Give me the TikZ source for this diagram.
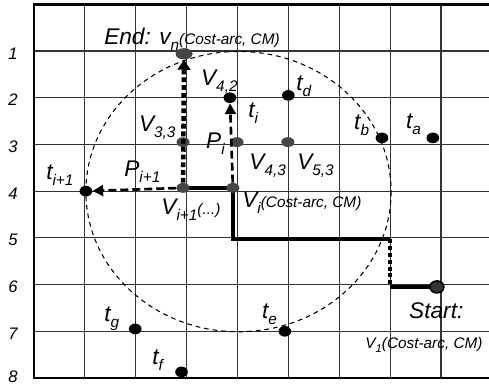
\documentclass[tikz,border=0pt]{standalone}
\usepackage{fontspec}
\setmainfont{Liberation Sans}
\usepackage{tikz}
\usetikzlibrary{arrows.meta, shapes.geometric, backgrounds}
\usepackage{xcolor}
\definecolor{dotgray}{HTML}{464646}
\definecolor{gridgray}{HTML}{333333}
\newcommand{\mainf}{\fontsize{17pt}{19pt}\selectfont\itshape}
\newcommand{\smallf}{\fontsize{11.5pt}{13pt}\selectfont\itshape}
\newcommand{\sbx}[1]{\raisebox{-4.5pt}{\fontsize{11.5pt}{13pt}\selectfont\itshape #1}}
\newcommand{\sbs}[1]{\raisebox{-3pt}{\fontsize{8.5pt}{10pt}\selectfont\itshape #1}}

\begin{document}
\begin{tikzpicture}[
    x=38.15pt, y=-35.03pt,
    gridline/.style={gridgray, line width=0.9pt},
    frame/.style={black, line width=2pt},
    vdot/.style={ellipse, fill=dotgray, inner sep=0, minimum width=9.8pt, minimum height=7.4pt},
    tdot/.style={ellipse, fill=black, inner sep=0, minimum width=9.5pt, minimum height=8pt},
    lbl/.style={anchor=base west, inner sep=0, font=\mainf},
    rowlbl/.style={inner sep=0, font=\fontsize{12.5pt}{14pt}\selectfont\itshape},
    route/.style={line width=3pt},
    routedots/.style={line width=3pt, dash pattern=on 3pt off 2.2pt},
    searcharrow/.style={line width=3.4pt, dash pattern=on 3.6pt off 2.2pt, -{Triangle[width=9.5pt,length=7.5pt]}},
    probe/.style={line width=2pt, dash pattern=on 6pt off 3pt, -{Triangle[width=8pt,length=8pt]}},
    searchzone/.style={line width=0.8pt, dash pattern=on 3.5pt off 3pt}
]
    \useasboundingbox (-0.668,-0.092) rectangle (8.944,8.195);

    % Grid
    \begin{scope}[on background layer]
        \foreach \r in {1,...,7}
            \draw[gridline] (0,\r) -- (8.944,\r);
        \foreach \c in {1,...,8}
            \draw[gridline] (\c,0) -- (\c,8);
        \draw[frame] (8.944,0) -- (0,0) -- (0,8) -- (8.944,8);
    \end{scope}

    % Row numbers
    \foreach \r in {1,...,7}
        \node[rowlbl] (row\r) at (-0.413,\r+0.05) {\r};
    \node[rowlbl] (row8) at (-0.413,7.97) {8};

    % Route vertices
    \node[vdot, minimum width=12.75pt, minimum height=8.5pt] (vn) at (2.95,1.06) {};
    \node[vdot] (v33) at (2.93,2.95) {};
    \node[vdot] (vnext) at (2.93,3.93) {};
    \node[vdot] (vi) at (3.91,3.93) {};
    \node[vdot] (pi) at (3.99,2.95) {};
    \node[vdot] (v53) at (4.99,2.95) {};
    \node[tdot] (v42) at (3.85,2) {};
    \node[tdot, draw=black, fill=black!80, line width=1.2pt, minimum width=10.5pt, minimum height=9pt] (v1) at (7.92,6.05) {};

    % Targets
    \node[tdot] (td) at (5,1.95) {};
    \node[tdot] (tb) at (6.84,2.86) {};
    \node[tdot] (ta) at (7.84,2.86) {};
    \node[tdot] (tnext) at (1.02,4) {};
    \node[tdot] (tg) at (1.99,6.95) {};
    \node[tdot] (tf) at (2.9,7.87) {};
    \node[tdot] (te) at (4.93,7) {};

    % Bends of the route
    \coordinate (ctr) at (4.02,4.01);
    \coordinate (bendA) at (3.91,5.02);
    \coordinate (bendB) at (6.99,5.02);
    \coordinate (bendC) at (6.99,6.05);

    % Route and search range
    \begin{scope}[on background layer]
        \draw[searchzone] (ctr) circle [x radius=3, y radius=3];
        \draw[route] (vnext.center) -- (vi.center) -- (bendA) -- (bendB);
        \draw[routedots] (bendB) -- (bendC);
        \draw[route] (bendC) -- (v1.center);
    \end{scope}
    \draw[searcharrow] (vnext) -- (vn);
    \draw[probe] (vnext) -- (tnext);
    \draw[probe] (vi) -- (v42);

    % Labels
    \node[lbl] (endlbl) at (1.376,0.85) {End: v\sbx{n}{\smallf(Cost-arc, CM)}};
    \node[lbl] (v42lbl) at (3.28,1.73) {V\sbx{4,2}};
    \node[lbl] (tilbl) at (4.21,2.43) {t\sbx{i}};
    \node[lbl] (tdlbl) at (5.15,1.835) {t\sbx{d}};
    \node[lbl] (v33lbl) at (2.06,2.73) {V\sbx{3,3}};
    \node[lbl] (pilbl) at (3.38,3.08) {P\sbx{i}};
    \node[lbl] (v43lbl) at (4.23,3.53) {V\sbx{4,3}};
    \node[lbl] (v53lbl) at (5.17,3.53) {V\sbx{5,3}};
    \node[lbl] (tblbl) at (6.29,2.69) {t\sbx{b}};
    \node[lbl] (talbl) at (7.31,2.65) {t\sbx{a}};
    \node[lbl] (tnextlbl) at (0.236,3.76) {t\sbx{i+1}};
    \node[lbl] (pnextlbl) at (1.77,3.68) {P\sbx{i+1}};
    \node[lbl] (vnextlbl) at (2.5,4.51) {V\sbx{i+1}{\smallf(...)}};
    \node[lbl] (vilbl) at (4.09,4.36) {V\sbx{i}{\smallf(Cost-arc, CM)}};
    \node[lbl] (tglbl) at (1.376,6.8) {t\sbx{g}};
    \node[lbl] (tflbl) at (2.32,7.72) {t\sbx{f}};
    \node[lbl] (telbl) at (4.48,6.72) {t\sbx{e}};
    \node[lbl] (startlbl) at (7.37,6.72) {Start:};
    \node[lbl, font=\smallf] (v1lbl) at (6.51,7.36) {V\sbs{1}(Cost-arc, CM)};
\end{tikzpicture}
\end{document}
